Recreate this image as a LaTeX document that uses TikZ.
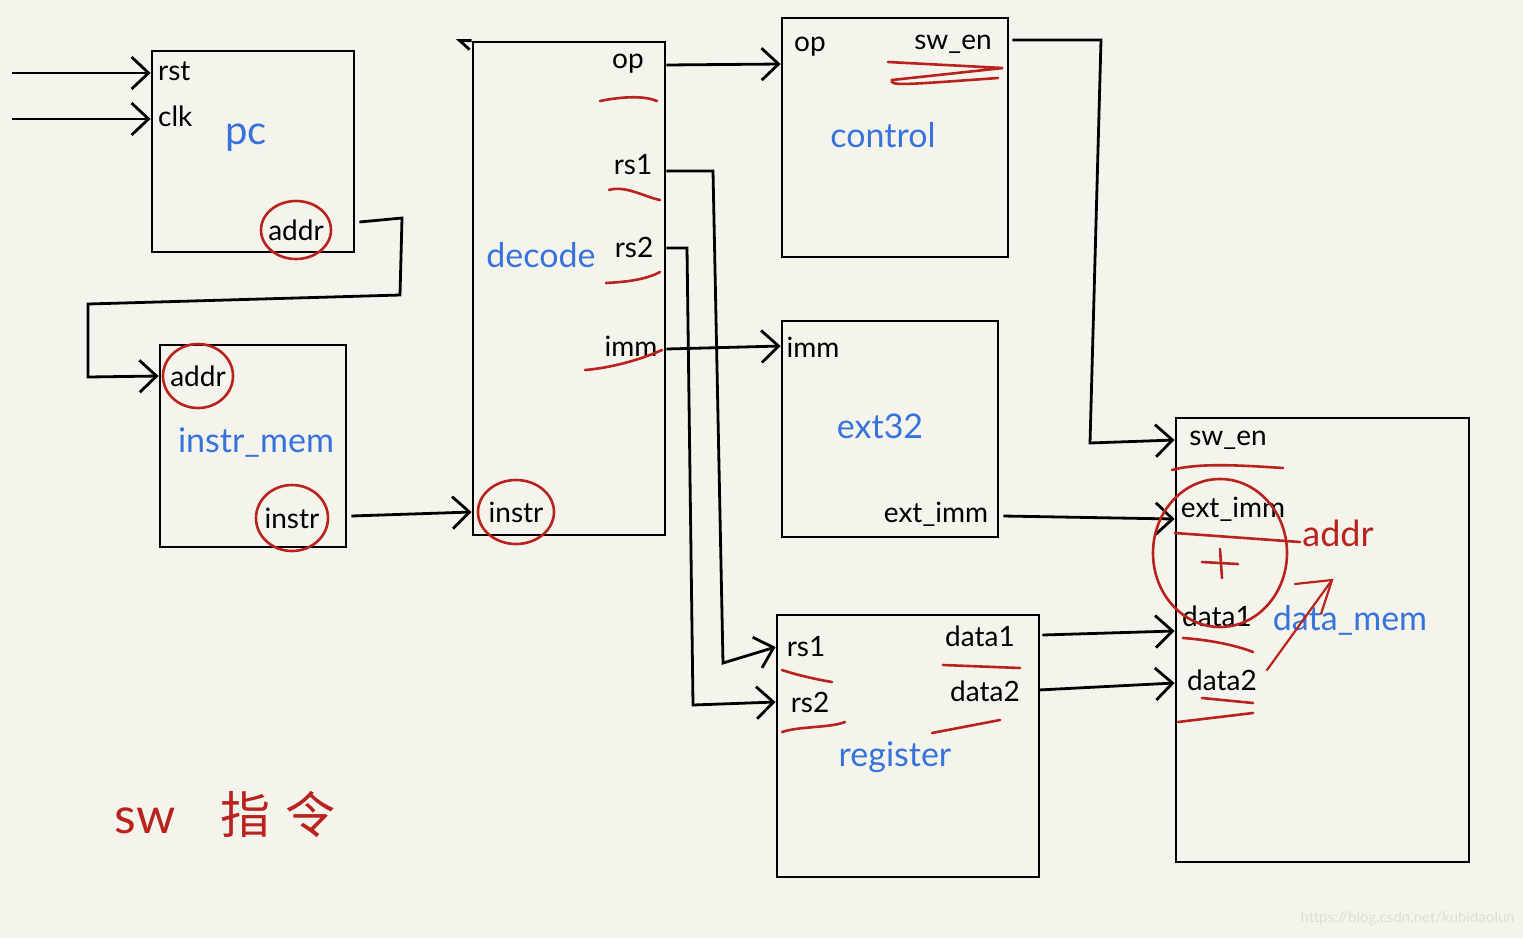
\documentclass[tikz,border=0pt]{standalone}
\usepackage{fontspec}
\setmainfont{Lato}
\newfontfamily\cjk{Noto Sans CJK SC}
\usetikzlibrary{arrows.meta}
\definecolor{bg}{RGB}{245,244,236}
\definecolor{hblue}{RGB}{55,115,220}
\definecolor{hred}{RGB}{185,35,30}
\definecolor{wm}{RGB}{222,222,214}
\tikzset{
  box/.style={draw, line width=2.8pt, inner sep=0pt, rectangle},
  lbl/.style={font=\fontsize{28}{32}\selectfont, text=black, inner sep=1pt},
  blbl/.style={font=\fontsize{34}{40}\selectfont, text=hblue, inner sep=1pt},
  wire/.style={line width=2.8pt},
  arr/.style={line width=2.8pt, -{Straight Barb[length=17pt,width=32pt,line width=2.8pt]}},
  redmark/.style={draw=hred, line width=2.6pt, line cap=round},
  redarr/.style={draw=hred, line width=2.2pt, line cap=round}
}
\begin{document}
\begin{tikzpicture}[x=1pt,y=-1pt]
\fill[bg] (0,0) rectangle (1523,938);
\useasboundingbox (0,0) rectangle (1523,938);

% boxes
\node[box, minimum width=202pt, minimum height=201pt] (pc) at (253,151.5) {};
\node[box, minimum width=186pt, minimum height=202pt] (imem) at (253,446) {};
\node[box, minimum width=192pt, minimum height=493pt] (dec) at (569,288.5) {};
\node[box, minimum width=226pt, minimum height=239pt] (ctrl) at (895,137.5) {};
\node[box, minimum width=216pt, minimum height=216pt] (ext) at (890,429) {};
\node[box, minimum width=262pt, minimum height=262pt] (reg) at (908,746) {};
\node[box, minimum width=293pt, minimum height=444pt] (dm) at (1322.5,640) {};
\draw[wire] (dec.north west) -- ++(-12,0) -- ++(10,9);

% blue titles
\node[blbl, font=\fontsize{40}{44}\selectfont] (tpc) at (246,138) {pc};
\node[blbl] (timem) at (256,443) {instr\_mem};
\node[blbl] (tdec) at (541,255) {decode};
\node[blbl] (tctrl) at (883,135) {control};
\node[blbl] (text32) at (880,426) {ext32};
\node[blbl] (treg) at (895,757) {register};
\node[blbl] (tdm) at (1350,620) {data\_mem};

% port labels
\node[lbl, anchor=west] (pcrst) at (157,71) {rst};
\node[lbl, anchor=west] (pcclk) at (157,116) {clk};
\node[lbl] (pcaddr) at (296,230) {addr};
\node[lbl] (imaddr) at (198,376) {addr};
\node[lbl] (iminstr) at (292,518) {instr};
\node[lbl] (decop) at (628,64) {op};
\node[lbl] (decrs1) at (633,165) {rs1};
\node[lbl] (decrs2) at (634,247) {rs2};
\node[lbl] (decimm) at (631,346) {imm};
\node[lbl] (decinstr) at (516,512) {instr};
\node[lbl] (ctop) at (810,47) {op};
\node[lbl] (ctsw) at (953,44) {sw\_en};
\node[lbl] (eximm) at (813,347) {imm};
\node[lbl] (exext) at (936,514) {ext\_imm};
\node[lbl] (rgrs1) at (806,647) {rs1};
\node[lbl] (rgrs2) at (810,702) {rs2};
\node[lbl] (rgd1) at (980,636) {data1};
\node[lbl] (rgd2) at (985,691) {data2};
\node[lbl] (dmsw) at (1228,440) {sw\_en};
\node[lbl] (dmext) at (1233,509) {ext\_imm};
\node[lbl] (dmd1) at (1217,616) {data1};
\node[lbl] (dmd2) at (1222,680) {data2};

% connectors
\coordinate (rstsrc) at (12,73);
\coordinate (clksrc) at (12,119);
\draw[arr] (rstsrc) -- (rstsrc -| pc.west);
\draw[arr] (clksrc) -- (clksrc -| pc.west);
\draw[arr] (pc.east |- pcaddr) ++(4,-8) -- (402,218) -- (400,295) -- (88,304) -- (88,377) -- (imem.west |- imaddr);
\draw[arr] (imem.east |- iminstr) ++(4,-2) -- (dec.west |- decinstr);
\draw[arr] (dec.east |- decop) ++(0,1) -- (ctrl.west |- decop);
\draw[arr] (dec.east |- decrs1) ++(0,6) -- (713,171) -- (723,663) -- (reg.west |- rgrs1);
\draw[arr] (dec.east |- decrs2) ++(0,1) -- (687,248) -- (693,705) -- (reg.west |- rgrs2);
\draw[arr] (dec.east |- decimm) ++(0,3) -- (ext.west |- decimm);
\draw[arr] (ext.east |- exext) ++(4,2) -- (dm.west |- 0,519);
\draw[arr] (ctrl.east |- ctsw) ++(3,-4) -- (1101,40) -- (1090,443) -- (dm.west |- dmsw);
\draw[arr] (reg.east |- rgd1) ++(2,-1) -- (dm.west |- 0,631);
\draw[arr] (reg.east |- rgd2) ++(-2,-1) -- (dm.west |- 0,683);

% red annotations: circles
\draw[redmark] (pcaddr) ellipse [x radius=35pt, y radius=29pt];
\draw[redmark] (imaddr) ellipse [x radius=35pt, y radius=32pt];
\draw[redmark] (iminstr) ellipse [x radius=36pt, y radius=33pt];
\draw[redmark] (decinstr) ellipse [x radius=38pt, y radius=32pt];
% underlines decode
\draw[redmark] (600,101) .. controls (625,96) and (645,96) .. (657,101);
\draw[redmark] (609,190) .. controls (625,185) and (645,197) .. (660,200);
\draw[redmark] (606,283) .. controls (625,282) and (645,280) .. (660,272);
\draw[redmark] (585,370) .. controls (610,368) and (640,360) .. (662,350);
% control sw_en scribble
\draw[redmark] (888,62) -- (1003,68) -- (892,80) .. controls (890,86) and (900,85) .. (998,78);
% register underlines
\draw[redmark] (782,670) .. controls (800,676) and (820,680) .. (832,682);
\draw[redmark] (782,732) .. controls (800,726) and (830,728) .. (845,722);
\draw[redmark] (943,665) -- (1020,668);
\draw[redmark] (932,733) -- (1000,720);
% data_mem annotations
\draw[redmark] (1172,470) .. controls (1200,462) and (1250,466) .. (1283,468);
\draw[redmark] (1220,553) ellipse [x radius=67pt, y radius=74pt];
\draw[redmark] (1175,533) -- (1300,542);
\node[font=\fontsize{36}{40}\selectfont, text=hred, inner sep=1pt] (addrred) at (1338,533) {addr};
\draw[redmark] (1202,562) -- (1238,564);
\draw[redmark] (1220,549) -- (1222,578);
\draw[redmark] (1183,638) .. controls (1210,640) and (1235,645) .. (1253,652);
\draw[redmark] (1202,698) -- (1253,703);
\draw[redmark] (1178,722) -- (1253,713);
\draw[redarr] (1267,670) -- (1332,580);
\draw[redarr] (1295,584) -- (1332,580) -- (1321,614);

% title
\node[font=\fontsize{50}{56}\selectfont, text=hred, inner sep=1pt] (title) at (225,815) {sw\hspace{0.9em}{\cjk 指\hspace{0.3em}令}};

% watermark
\node[font=\fontsize{15}{18}\selectfont, text=wm, anchor=east, inner sep=0pt] (wmk) at (1515,918) {https://blog.csdn.net/kubidaolun};
\end{tikzpicture}
\end{document}
